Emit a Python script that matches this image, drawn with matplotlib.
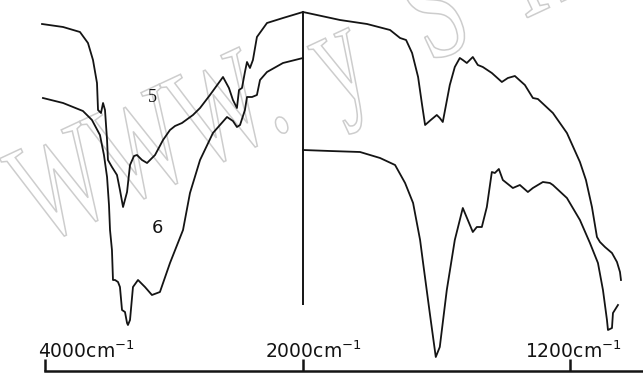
import numpy as np
import matplotlib
matplotlib.use("Agg")
import matplotlib.pyplot as plt
from matplotlib.textpath import TextPath
from matplotlib.patches import PathPatch
from matplotlib.font_manager import FontProperties
import matplotlib.transforms as mtransforms

plt.rcParams['mathtext.fontset'] = 'dejavusans'

# ---- data (wavenumber cm-1, relative transmittance a.u.) ----
wn5_left = [4023, 3860, 3729, 3667, 3628, 3597, 3589, 3566, 3550, 3535, 3519, 3512,
            3481, 3442, 3419, 3395, 3364, 3341, 3310, 3287, 3248, 3209, 3147, 3085,
            3031, 2992, 2938, 2853, 2798, 2721, 2620, 2574, 2543, 2512, 2496, 2473,
            2450, 2434, 2411, 2388, 2357, 2279, 2155, 2000]
t5_left = [348, 345, 340, 329, 312, 289, 262, 259, 269, 262, 232, 212,
           205, 197, 182, 165, 180, 207, 216, 217, 212, 209, 217, 232,
           242, 246, 249, 257, 264, 277, 295, 284, 272, 264, 282, 284,
           300, 310, 304, 312, 335, 349, 354, 360]

wn5_right = [2000, 1889, 1808, 1739, 1709, 1691, 1673, 1655, 1643, 1634, 1617, 1599,
             1590, 1581, 1560, 1545, 1530, 1521, 1509, 1491, 1476, 1461, 1434, 1404,
             1386, 1365, 1335, 1311, 1296, 1251, 1209, 1170, 1152, 1134, 1119, 1110,
             1095, 1074, 1059, 1050, 1047]
t5_right = [360, 352, 348, 342, 334, 332, 319, 295, 267, 247, 252, 257,
            254, 250, 287, 305, 314, 312, 309, 315, 307, 305, 299, 290,
            294, 296, 287, 274, 273, 259, 239, 210, 192, 165, 135, 130,
            125, 119, 110, 100, 92]

wn6_left = [4016, 3860, 3706, 3636, 3574, 3543, 3519, 3504, 3496, 3481, 3473, 3457,
            3434, 3419, 3403, 3380, 3364, 3357, 3341, 3318, 3279, 3225, 3171, 3109,
            3031, 2930, 2876, 2798, 2698, 2589, 2543, 2512, 2488, 2450, 2434, 2395,
            2357, 2333, 2279, 2155, 2000]
t6_left = [274, 269, 261, 252, 237, 217, 195, 167, 142, 122, 92, 92,
           90, 85, 62, 60, 49, 47, 52, 85, 92, 85, 77, 80,
           109, 142, 179, 212, 239, 255, 251, 245, 247, 262, 275, 275,
           277, 292, 300, 309, 314]

wn6_right = [2000, 1919, 1829, 1769, 1724, 1694, 1670, 1649, 1640, 1620, 1602, 1590,
             1569, 1545, 1521, 1506, 1491, 1479, 1464, 1449, 1434, 1425, 1413, 1401,
             1371, 1350, 1326, 1311, 1281, 1260, 1251, 1209, 1170, 1140, 1116, 1101,
             1089, 1086, 1074, 1071, 1056]
t6_right = [222, 221, 220, 214, 207, 189, 169, 132, 109, 59, 15, 25,
            82, 132, 164, 152, 140, 145, 145, 165, 200, 199, 203, 192,
            184, 187, 180, 184, 190, 189, 187, 174, 152, 129, 109, 82,
            52, 42, 44, 59, 67]

tick_values = [4000, 2000, 1200]
tick_labels = [r'4000cm$^{-1}$', r'2000cm$^{-1}$', r'1200cm$^{-1}$']
curve_labels = ['5', '6']
watermark_letters = ['W', 'W', 'W', '.', 'y', 'S', 'H']


# ---- split (piecewise-linear) wavenumber scale, increasing in wavenumber ----
def forward(w):
    w = np.asarray(w, dtype=float)
    pos = np.where(w >= 2000, (4000 - w) / 2000 * 258, 258 + (2000 - w) / 800 * 267)
    return -pos


def inverse(q):
    p = -np.asarray(q, dtype=float)
    return np.where(p <= 258, 4000 - p / 258 * 2000, 2000 - (p - 258) / 267 * 800)


DPI = 100
W_PX, H_PX = 643, 374
fig = plt.figure(figsize=(W_PX / DPI, H_PX / DPI), dpi=DPI)
ax = fig.add_axes([0, 0, 1, 1])
ax.set_xscale('function', functions=(forward, inverse))
ax.set_xlim(4349, 981)
ax.set_ylim(-2, 372)
ax.patch.set_alpha(0)

# ---- watermark: outlined, condensed serif letters along a tilted baseline ----
wm_font = FontProperties(family='Liberation Serif')
wm_angle = 25.0
wm_origin = (40, 245)            # baseline start, image pixels (from top-left)
wm_offsets = [0, 88, 176, 258, 325, 430, 535]   # distance along baseline, px
ca, sa = np.cos(np.radians(wm_angle)), np.sin(np.radians(wm_angle))
for ch, s in zip(watermark_letters, wm_offsets):
    tp = TextPath((0, 0), ch, size=130, prop=wm_font)
    bx = wm_origin[0] + s * ca
    by = (H_PX - wm_origin[1]) + s * sa
    tr = (mtransforms.Affine2D().scale(0.72, 1.12).rotate_deg(wm_angle)
          .translate(bx, by).scale(1.0 / DPI) + fig.dpi_scale_trans)
    patch = PathPatch(tp, transform=tr, facecolor='none', edgecolor='#cdcdcd',
                      lw=1.1, zorder=-1)
    fig.add_artist(patch)

lc = '#141414'
lw = 1.3
ax.plot(wn5_left, t5_left, color=lc, lw=lw, zorder=3)
ax.plot(wn5_right, t5_right, color=lc, lw=lw, zorder=3)
ax.plot(wn6_left, t6_left, color=lc, lw=lw, zorder=3)
ax.plot(wn6_right, t6_right, color=lc, lw=lw, zorder=3)

# divider at 2000 cm-1
ax.vlines(2000, 67, 360, color=lc, lw=1.4, zorder=3)

# bottom axis
for s in ['top', 'left', 'right']:
    ax.spines[s].set_visible(False)
ax.spines['bottom'].set_position(('data', 1))
ax.spines['bottom'].set_bounds(4000, 981)
ax.spines['bottom'].set_linewidth(1.8)
ax.spines['bottom'].set_color(lc)
ax.set_xticks(tick_values)
ax.set_xticklabels([''] * len(tick_values))
ax.xaxis.set_minor_locator(matplotlib.ticker.NullLocator())
ax.tick_params(axis='x', direction='in', length=9, width=1.8, color=lc)
ax.set_yticks([])

tick_text_left = [4054, 2295, 1335]
for xp, lab in zip(tick_text_left, tick_labels):
    ax.text(xp, 14, lab, ha='left', va='baseline', fontsize=13.5,
            family='DejaVu Sans', color=lc, zorder=4)

ax.text(3171, 275, curve_labels[0], ha='center', va='center', fontsize=13,
        family='Liberation Serif', color=lc, zorder=4)
ax.text(3132, 144, curve_labels[1], ha='center', va='center', fontsize=13,
        family='DejaVu Sans', color=lc, zorder=4)

fig.savefig('out.png', dpi=DPI)
